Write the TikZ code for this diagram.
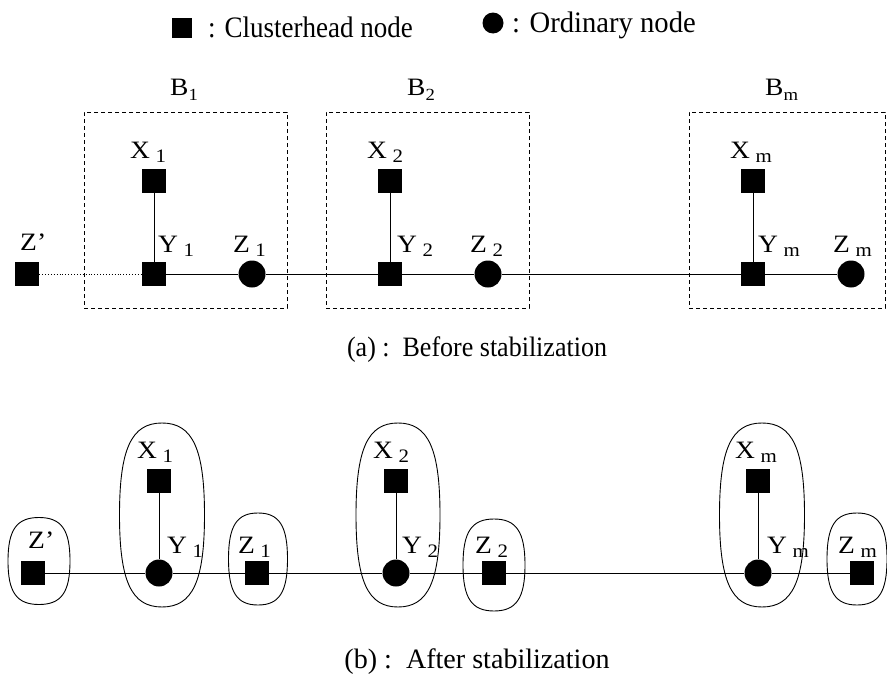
\documentclass[tikz,border=0pt]{standalone}
\usepackage{fontspec}
\setmainfont{Liberation Serif}
\newcommand{\sublab}[2]{\scalebox{1.1}[1]{#1\hspace{0.2em}\raisebox{-4pt}{\fontsize{19}{19}\selectfont #2}}}
\newcommand{\blab}[2]{\scalebox{1.1}[1]{#1\raisebox{-5pt}{\fontsize{17}{17}\selectfont #2}}}
\newcommand{\myblob}[4]{\draw[encl] (#1,#2-#4/2) .. controls +(0.72*#3/2,0) and +(0,-0.72*#4/2) .. (#1+#3/2,#2) .. controls +(0,0.72*#4/2) and +(0.72*#3/2,0) .. (#1,#2+#4/2) .. controls +(-0.72*#3/2,0) and +(0,0.72*#4/2) .. (#1-#3/2,#2) .. controls +(0,-0.72*#4/2) and +(-0.72*#3/2,0) .. cycle;}
\begin{document}
\begin{tikzpicture}[x=1pt,y=-1pt,
  head/.style={rectangle,fill=black,draw=none,minimum size=24pt,inner sep=0pt},
  ord/.style={circle,fill=black,draw=none,minimum size=27pt,inner sep=0pt},
  lab/.style={font=\fontsize{25}{25}\selectfont,inner sep=0pt,anchor=base west},
  captext/.style={font=\fontsize{26}{26}\selectfont,inner sep=0pt,anchor=base},
  legtext/.style={font=\fontsize{27}{27}\selectfont,inner sep=0pt,anchor=base west},
  bbox/.style={draw,dash pattern=on 4pt off 3pt,line width=0.8pt},
  link/.style={line width=0.9pt},
  encl/.style={line width=0.9pt}]
\useasboundingbox (0,0) rectangle (887,680);
% legend
\node[head,minimum size=20pt] (lsq) at (182,28) {};
\node[legtext] (lsqt) at (208,37) {\scalebox{1}[1.1]{: Clusterhead node}};
\node[ord,minimum size=21pt] (lci) at (493,23) {};
\node[legtext] (lcit) at (512,32) {\scalebox{1.06}[1.1]{: Ordinary node}};
% ---------- (a)
\node[bbox,minimum width=203pt,minimum height=196pt,inner sep=0pt] (b1) at (185.5,210) {};
\node[bbox,minimum width=203pt,minimum height=196pt,inner sep=0pt] (b2) at (427.5,210) {};
\node[bbox,minimum width=196pt,minimum height=196pt,inner sep=0pt] (bm) at (787,210) {};
\node[lab] (b1l) at (170,95) {\blab{B}{1}};
\node[lab] (b2l) at (407,95) {\blab{B}{2}};
\node[lab] (bml) at (765,95) {\blab{B}{m}};
\node[head] (aZp) at (27,274) {};
\node[head] (aX1) at (154,181) {};
\node[head] (aY1) at (154,274) {};
\node[ord] (aZ1) at (252,274) {};
\node[head] (aX2) at (390,181) {};
\node[head] (aY2) at (390,274) {};
\node[ord] (aZ2) at (488,274) {};
\node[head] (aXm) at (753,181) {};
\node[head] (aYm) at (753,274) {};
\node[ord] (aZm) at (851,274) {};
\node[lab] at (20,250) {\scalebox{1.1}[1]{Z'}};
\node[lab] at (130,158) {\sublab{X}{1}};
\node[lab] at (158,252) {\sublab{Y}{1}};
\node[lab] at (233,252) {\sublab{Z}{1}};
\node[lab] at (367,158) {\sublab{X}{2}};
\node[lab] at (397,252) {\sublab{Y}{2}};
\node[lab] at (470,252) {\sublab{Z}{2}};
\node[lab] at (730,158) {\sublab{X}{m}};
\node[lab] at (758,252) {\sublab{Y}{m}};
\node[lab] at (833,252) {\sublab{Z}{m}};
\draw[link,dotted] (aZp) -- (aY1);
\draw[link] (aY1) -- (aZ1) -- (aY2) -- (aZ2) -- (aYm) -- (aZm);
\draw[link] (aX1) -- (aY1);
\draw[link] (aX2) -- (aY2);
\draw[link] (aXm) -- (aYm);
\node[captext] (capa) at (477,356) {\scalebox{1}[1.08]{(a) :\ \ Before stabilization}};
% ---------- (b)
\myblob{39}{561}{62}{87}
\myblob{162}{515}{85}{184}
\myblob{258}{559}{59}{92}
\myblob{398}{515}{84}{184}
\myblob{494}{565}{62}{92}
\myblob{762}{515}{85}{184}
\myblob{857}{559}{60}{92}
\node[head] (bZp) at (33,573) {};
\node[head] (bX1) at (159,481) {};
\node[ord] (bY1) at (159,573) {};
\node[head] (bZ1) at (257,573) {};
\node[head] (bX2) at (396,481) {};
\node[ord] (bY2) at (396,573) {};
\node[head] (bZ2) at (494,573) {};
\node[head] (bXm) at (758,481) {};
\node[ord] (bYm) at (758,573) {};
\node[head] (bZm) at (862,573) {};
\node[lab] at (28,548) {\scalebox{1.1}[1]{Z'}};
\node[lab] at (137,458) {\sublab{X}{1}};
\node[lab] at (167,553) {\sublab{Y}{1}};
\node[lab] at (238,553) {\sublab{Z}{1}};
\node[lab] at (373,458) {\sublab{X}{2}};
\node[lab] at (402,553) {\sublab{Y}{2}};
\node[lab] at (475,553) {\sublab{Z}{2}};
\node[lab] at (735,458) {\sublab{X}{m}};
\node[lab] at (767,553) {\sublab{Y}{m}};
\node[lab] at (838,553) {\sublab{Z}{m}};
\draw[link] (bZp) -- (bY1) -- (bZ1) -- (bY2) -- (bZ2) -- (bYm) -- (bZm);
\draw[link] (bX1) -- (bY1);
\draw[link] (bX2) -- (bY2);
\draw[link] (bXm) -- (bYm);
\node[captext] (capb) at (477,668) {\scalebox{1.08}[1.08]{(b) :\ \ After stabilization}};
\end{tikzpicture}
\end{document}
